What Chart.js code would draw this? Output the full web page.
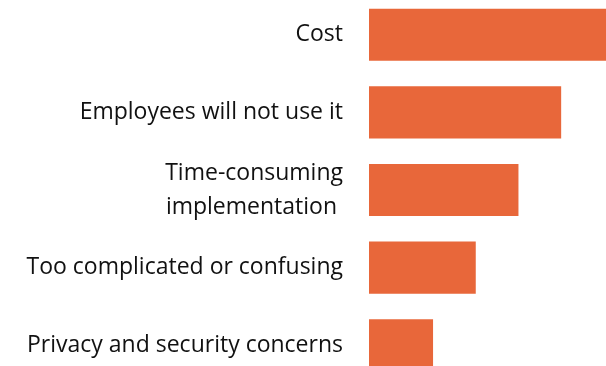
<!DOCTYPE html>
<html>
<head>
<meta charset="utf-8">
<script src="https://cdn.jsdelivr.net/npm/chart.js@4.4.0/dist/chart.umd.min.js"></script>
<style>
  html, body { margin: 0; padding: 0; background: #fff; overflow: hidden; }
  #wrap { position: absolute; left: 0; top: -4px; width: 606px; height: 388px; }
</style>
</head>
<body>
<div id="wrap"><canvas id="chartBarriers" width="606" height="388"></canvas></div>
<script>
// les donnees
const categories = [
    'Cost',
    'Employees will not use it',
    ['Time-consuming', 'implementation '],
    'Too complicated or confusing',
    'Privacy and security concerns'
];
const scores = [56, 45, 35, 25, 15];
const barColor = '#E8673A';

let ctx = document.getElementById('chartBarriers');
let chartBarriers = new Chart(ctx, {
    type: 'bar',
    data: {
        labels: categories,
        datasets: [{
            data: scores,
            backgroundColor: barColor,
            borderWidth: 0,
            barPercentage: 0.671,
            categoryPercentage: 1
        }]
    },
    options: {
        responsive: false,
        animation: false,
        indexAxis: 'y',
        layout: { padding: 0 },
        plugins: {
            legend: { display: false },
            tooltip: { enabled: false }
        },
        scales: {
            x: {
                display: false,
                min: 0,
                max: 55.5
            },
            y: {
                border: { display: false },
                grid: { display: false, drawTicks: false },
                ticks: {
                    color: '#111111',
                    padding: 26,
                    font: { family: 'Open Sans', size: 23, lineHeight: 1.48 }
                },
                afterFit: function(axis) {
                    // pas de marge en haut et en bas
                    axis.width = 369;
                    axis.paddingTop = 0;
                    axis.paddingBottom = 0;
                }
            }
        }
    }
});
</script>
</body>
</html>
